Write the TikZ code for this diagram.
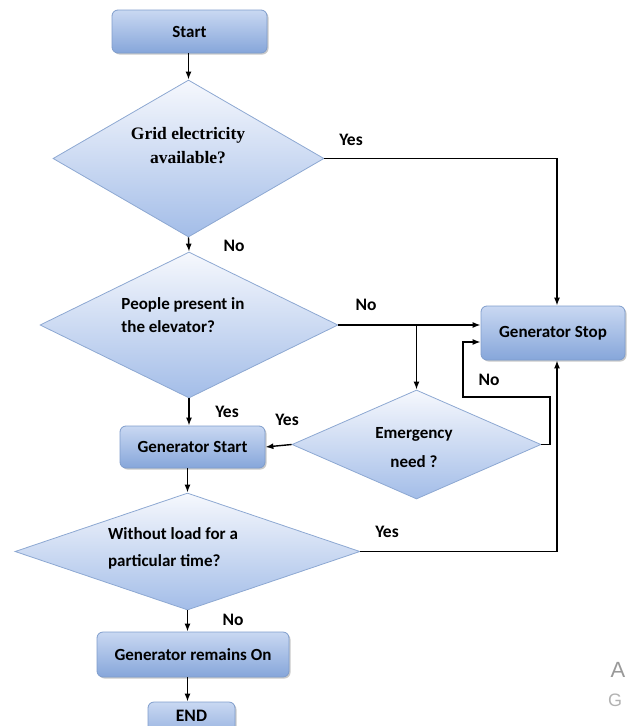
\documentclass[tikz,border=0pt]{standalone}
\usepackage{fontspec}
\setmainfont{Carlito}
\newfontfamily\serifb{Liberation Serif}
\newfontfamily\wmfont{Liberation Sans}
\usetikzlibrary{arrows.meta,shapes.geometric,shadows}
\definecolor{boxedge}{HTML}{7F9DCC}
\definecolor{boxtop}{HTML}{C9D8F2}
\definecolor{boxmid}{HTML}{E9EFFA}
\definecolor{boxbot}{HTML}{86A6DA}
\definecolor{diaedge}{HTML}{8DA8D2}
\definecolor{diatop}{HTML}{F6F8FD}
\definecolor{diabot}{HTML}{A3BDE8}
\begin{document}
\begin{tikzpicture}[x=1pt,y=-1pt,
  box/.style={draw=boxedge, line width=0.8pt, rounded corners=6pt,
    top color=boxtop, middle color=boxmid, bottom color=boxbot,
    drop shadow={shadow xshift=1.5pt, shadow yshift=-1.5pt, opacity=0.3, fill=black!70},
    inner sep=0pt, font=\fontsize{17}{19}\selectfont\bfseries},
  dia/.style={diamond, draw=diaedge, line width=0.8pt, top color=diatop, bottom color=diabot, inner sep=0pt},
  dtext/.style={font=\fontsize{17}{19}\selectfont\bfseries, align=left, inner sep=0pt},
  lab/.style={font=\fontsize{17.5}{20}\selectfont\bfseries, inner sep=0pt},
  conn/.style={line width=1.4pt, -{Latex[length=8pt,width=6pt]}}]
\useasboundingbox (0,0) rectangle (629,726);
\clip (0,0) rectangle (629,726);

% nodes
\node[box, minimum width=155pt, minimum height=43pt] (start) at (189.5,31.5) {Start};
\node[dia, minimum width=271pt, minimum height=157pt] (grid) at (188.5,158.5) {};
\node[font=\serifb\fontsize{17.5}{24}\selectfont\bfseries, align=center, inner sep=0pt] (gridt) at (188,146) {Grid electricity\\available?};
\node[dia, minimum width=298pt, minimum height=146pt] (people) at (189,325) {};
\node[dtext, font=\fontsize{17}{23}\selectfont\bfseries] (peoplet) at (183,315) {People present in\\the elevator?};
\node[box, minimum width=144pt, minimum height=54pt] (stop) at (553,333) {Generator Stop};
\node[dia, minimum width=249pt, minimum height=109pt] (emerg) at (416.5,444.5) {};
\node[dtext, align=center, font=\fontsize{17}{29}\selectfont\bfseries] (emergt) at (414,448) {Emergency\\need ?};
\node[box, minimum width=145pt, minimum height=42pt] (gstart) at (192.5,447) {Generator Start};
\node[dia, minimum width=345pt, minimum height=117pt] (noload) at (187.5,551.5) {};
\node[dtext, font=\fontsize{17}{27}\selectfont\bfseries] (noloadt) at (173,548) {Without load for a\\particular time?};
\node[box, minimum width=192pt, minimum height=45pt] (on) at (193,654.5) {Generator remains On};
\node[box, minimum width=87pt, minimum height=44pt] (end) at (191.5,724) {};
\node[lab] (endt) at (191.5,716) {END};

% connectors
\draw[conn] (grid.north |- start.south) -- (grid.north);
\draw[conn] (grid.south) -- (people.north);
\draw[conn] (grid.east) -| ([xshift=4pt]stop.north);
\draw[conn] (people.east) -- (people.east -| stop.west);
\draw[conn] (people.east -| emerg.north) -- (emerg.north);
\draw[conn] (emerg.east) -- (550,444.5) -- (550,397) -- (463,397) -- (463,342) -- (stop.west |- 0,342);
\draw[conn] (emerg.west) -- (gstart.east);
\draw[conn] (people.south) -- (people.south |- gstart.north);
\draw[conn] (noload.north |- gstart.south) -- (noload.north);
\draw[conn] (noload.east) -| ([xshift=4pt]stop.south);
\draw[conn] (noload.south) -- (noload.south |- on.north);
\draw[conn] (noload.south |- on.south) -- (noload.south |- end.north);

% labels
\node[lab] (l1) at (351,140) {Yes};
\node[lab] (l2) at (234,246) {No};
\node[lab] (l3) at (366,305) {No};
\node[lab] (l4) at (489,380) {No};
\node[lab] (l5) at (227,412) {Yes};
\node[lab] (l6) at (287,420) {Yes};
\node[lab] (l7) at (387,532) {Yes};
\node[lab] (l8) at (233,620) {No};

% watermark fragments
\node[font=\wmfont\fontsize{22}{24}\selectfont, text=black!40, inner sep=0pt] (wa) at (618,670) {A};
\node[font=\wmfont\fontsize{18}{20}\selectfont, text=black!30, inner sep=0pt] (wg) at (615,700) {G};
\end{tikzpicture}
\end{document}
